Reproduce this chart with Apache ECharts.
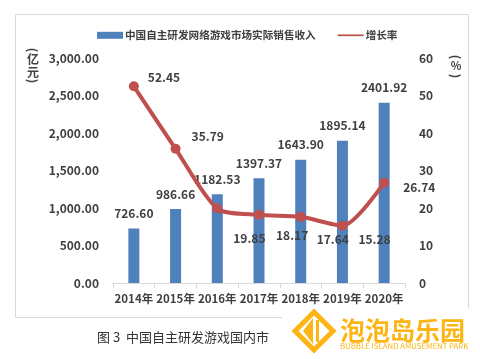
<!DOCTYPE html>
<html><head><meta charset="utf-8">
<script src="https://cdn.jsdelivr.net/npm/echarts@6/dist/echarts.min.js"></script>
<style>html,body{margin:0;padding:0;background:#fff}#c{width:480px;height:359px}</style>
</head><body><div id="c"></div>
<script>
var categories = ['2014年','2015年','2016年','2017年','2018年','2019年','2020年'];
var revenue = [726.60, 986.66, 1182.53, 1397.37, 1643.90, 1895.14, 2401.92];
var growth = [52.45, 35.79, 19.85, 18.17, 17.64, 15.28, 26.74];
var leftTicks = [0, 500, 1000, 1500, 2000, 2500, 3000];
var rightTicks = [0, 10, 20, 30, 40, 50, 60];
var barName = '中国自主研发网络游戏市场实际销售收入';
var lineName = '增长率';

var FONT = '"Noto Sans CJK SC", "Noto Sans", sans-serif';
var txt = '#404040';
var chart = echarts.init(document.getElementById('c'));
var growthLabelPos = [[4,-9],[6,-12],[6,30],[7,21],[6,23],[6,14],[9,5]];
var WM = '#FDB515';
chart.setOption({
  animation: false,
  textStyle: {fontFamily: FONT},
  legend: {
    top: 25, left: 92, itemGap: 22, itemWidth: 26, itemHeight: 7,
    textStyle: {fontSize: 10.6, fontWeight: 'bold', color: txt, fontFamily: FONT, padding: [0,0,0,-3]},
    data: [{name: barName, icon: 'rect'}, {name: lineName, icon: 'path://M0,3 L30,3 L30,5 L0,5 Z'}]
  },
  grid: {left: 113, right: 75, top: 58, bottom: 76},
  xAxis: {
    type: 'category', data: categories,
    axisLine: {lineStyle: {color: '#d9d9d9'}},
    axisTick: {show: true, length: 5, lineStyle: {color: '#d9d9d9'}},
    axisLabel: {interval: 0, fontSize: 11.5, fontWeight: 'bold', color: txt, margin: 10, fontFamily: FONT}
  },
  yAxis: [{
    type: 'value', min: 0, max: 3000, interval: 500,
    splitLine: {show: false}, axisLine: {show: false}, axisTick: {show: false},
    axisLabel: {fontSize: 12, fontWeight: 'bold', color: txt, margin: 14, fontFamily: FONT,
      formatter: function(v){ return v.toLocaleString('en-US',{minimumFractionDigits:2,maximumFractionDigits:2}); }}
  },{
    type: 'value', min: 0, max: 60, interval: 10,
    splitLine: {show: false}, axisLine: {show: false}, axisTick: {show: false},
    axisLabel: {fontSize: 12, fontWeight: 'bold', color: txt, margin: 14, fontFamily: FONT}
  }],
  series: [{
    name: barName, type: 'bar', data: revenue, barWidth: 11,
    itemStyle: {color: '#4F81BD'},
    label: {show: true, position: 'top', distance: 9, fontSize: 12, fontWeight: 'bold', color: txt, fontFamily: FONT,
      formatter: function(p){ return p.value.toFixed(2); }}
  },{
    name: lineName, type: 'line', yAxisIndex: 1, data: growth.map(function(v,i){
      return {value: v, label: {offset: growthLabelPos[i]}};
    }),
    smooth: 0.25, symbol: 'circle', symbolSize: 10,
    lineStyle: {color: '#C0504D', width: 4}, itemStyle: {color: '#C0504D'},
    label: {show: true, position: 'right', fontSize: 12, fontWeight: 'bold', color: txt, fontFamily: FONT,
      formatter: function(p){ return p.value.toFixed(2); }},
    z: 3
  }],
  graphic: [
    {type: 'rect', shape: {x: 15.5, y: 14.5, width: 453, height: 303}, style: {fill: 'none', stroke: '#d9d9d9', lineWidth: 1}, z: -1},
    {type: 'text', x: 33, y: 50, rotation: -Math.PI/2, style: {text: '(', font: 'bold 12px ' + FONT, fill: txt, align: 'center', verticalAlign: 'middle'}},
    {type: 'text', x: 33, y: 59, style: {text: '亿', font: 'bold 12px ' + FONT, fill: txt, align: 'center', verticalAlign: 'middle'}},
    {type: 'text', x: 33, y: 72, style: {text: '元', font: 'bold 12px ' + FONT, fill: txt, align: 'center', verticalAlign: 'middle'}},
    {type: 'text', x: 33, y: 81, rotation: -Math.PI/2, style: {text: ')', font: 'bold 12px ' + FONT, fill: txt, align: 'center', verticalAlign: 'middle'}},
    {type: 'text', x: 456, y: 57, rotation: -Math.PI/2, style: {text: '(', font: 'bold 12px ' + FONT, fill: txt, align: 'center', verticalAlign: 'middle'}},
    {type: 'text', x: 456, y: 66, style: {text: '%', font: 'bold 11px ' + FONT, fill: txt, align: 'center', verticalAlign: 'middle'}},
    {type: 'text', x: 456, y: 76, rotation: -Math.PI/2, style: {text: ')', font: 'bold 12px ' + FONT, fill: txt, align: 'center', verticalAlign: 'middle'}},
    {type: 'text', left: 97, top: 331, style: {text: '图 3  中国自主研发游戏国内市', font: '13px ' + FONT, fill: '#333'}},
    {type: 'rect', shape: {x: 282, y: 308, width: 198, height: 51}, style: {fill: '#fff'}, z: 10},
    {type: 'polygon', shape: {points: [[314,312],[333,331],[314,350],[295,331]]}, style: {fill: 'none', stroke: WM, lineWidth: 5}, z: 11},
    {type: 'polygon', shape: {points: [[313,318],[313,344],[303,331]]}, style: {fill: WM}, z: 11},
    {type: 'rect', shape: {x: 316, y: 320, width: 3, height: 22}, style: {fill: WM}, z: 11},
    {type: 'text', left: 340, top: 318, style: {text: '泡泡岛乐园', font: 'bold 25px ' + FONT, fill: WM}, z: 11},
    {type: 'text', left: 340, top: 342, style: {text: 'BUBBLE ISLAND AMUSEMENT PARK', font: '7.8px ' + FONT, fill: WM}, z: 11}
  ]
});
</script></body></html>
